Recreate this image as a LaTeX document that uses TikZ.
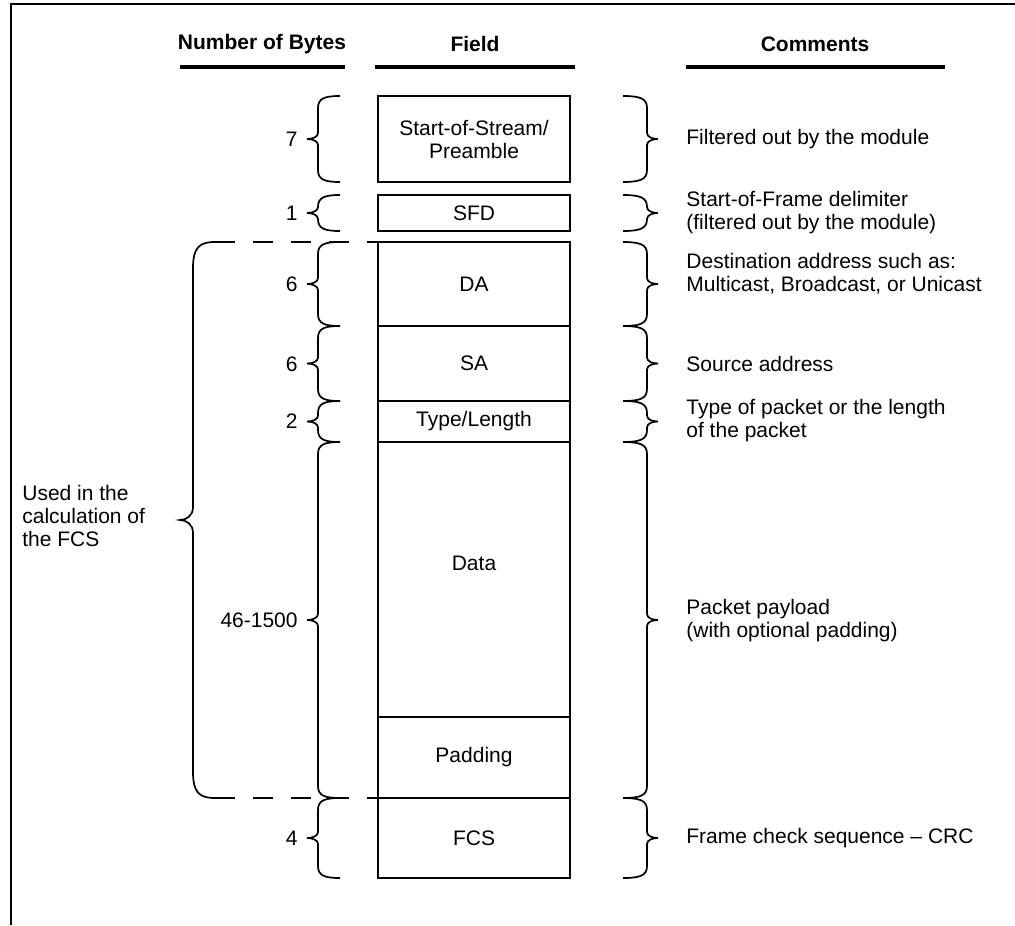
\documentclass[tikz,border=0pt]{standalone}
\usepackage{fontspec}
\setmainfont{Liberation Sans}
\usetikzlibrary{positioning}
\tikzset{
  fld/.style={draw,line width=1.3pt,minimum width=96pt,inner sep=1pt,outer sep=0pt,align=center},
  brc/.style={line width=0.85pt},
  hdr/.style={font=\fontsize{10.5}{11.5}\selectfont\bfseries},
  hrule/.style={line width=2.4pt},
  num/.style={anchor=east,inner sep=0pt},
  cmt/.style={anchor=west,align=left,inner sep=0pt},
  dline/.style={line width=1pt,dash pattern=on 10pt off 9pt},
  frame/.style={line width=1.3pt},
}
% brace: end x, spine x, tip x, top y, bottom y, corner length
\newcommand{\bracepath}[6]{%
  \draw[brc] (#1,#4) .. controls ({#2+0.3*(#1-#2)},#4) and (#2,{#4+0.2*#6}) .. (#2,{#4+#6})
    -- (#2,{(#4+#5)/2-#6/2}) .. controls (#2,{(#4+#5)/2-#6/6}) and ({#2+0.5*(#3-#2)},{(#4+#5)/2}) .. (#3,{(#4+#5)/2})
    .. controls ({#2+0.5*(#3-#2)},{(#4+#5)/2}) and (#2,{(#4+#5)/2+#6/6}) .. (#2,{(#4+#5)/2+#6/2})
    -- (#2,{#5-#6}) .. controls (#2,{#5-0.2*#6}) and ({#2+0.3*(#1-#2)},#5) .. (#1,#5);}

\begin{document}
\begin{tikzpicture}[x=0.5pt,y=-0.5pt,font=\fontsize{10.5}{11.5}\selectfont]
  \useasboundingbox (0,0) rectangle (1015,925);
  \draw[frame] (11,925) -- (11,4) -- (1015,4);

  % headings
  \node[hdr] (hbytes) at (262,44) {Number of Bytes};
  \node[hdr] (hfield) at (475,44) {Field};
  \node[hdr] (hcomm) at (815,44) {Comments};
  \draw[hrule] (180,67) -- (345,67);
  \draw[hrule] (375,67) -- (575,67);
  \draw[hrule] (686,67) -- (945,67);

  % frame fields
  \node[fld,minimum height=43pt] (pre) at (474,139) {Start-of-Stream/\\Preamble};
  \node[fld,minimum height=18pt,below=6.5pt of pre] (sfd) {SFD};
  \node[fld,minimum height=42pt,below=5.5pt of sfd] (da) {DA};
  \node[fld,minimum height=37.5pt,below=0pt of da] (sa) {SA};
  \node[fld,minimum height=20.5pt,below=0pt of sa] (tl) {Type/Length};
  \node[fld,minimum height=137.5pt,below=0pt of tl] (data) {};
  \node (datatxt) at (474,563) {Data};
  \node[fld,minimum height=40.5pt,below=0pt of data] (pad) {Padding};
  \node[fld,minimum height=40pt,below=0pt of pad] (fcs) {FCS};

  % byte counts
  \bracepath{340}{318}{307}{96}{182}{12}
  \bracepath{340}{318}{307}{195}{231}{12}
  \bracepath{340}{318}{307}{242}{326}{12}
  \bracepath{340}{318}{307}{326}{401}{12}
  \bracepath{340}{318}{307}{401}{442}{12}
  \bracepath{340}{318}{307}{442}{798}{12}
  \bracepath{340}{318}{307}{798}{878}{12}
  \node[num] (n7) at (298,139) {7};
  \node[num] (n1) at (298,213) {1};
  \node[num] (n6a) at (298,284) {6};
  \node[num] (n6b) at (298,364) {6};
  \node[num] (n2) at (298,421) {2};
  \node[num] (n46) at (298,620) {46-1500};
  \node[num] (n4) at (298,838) {4};

  % FCS coverage
  \bracepath{215}{193}{180}{242}{798}{26}
  \coordinate (fcstop) at (215,242);
  \coordinate (fcsbot) at (215,798);
  \draw[dline] (fcstop) -- (da.north west);
  \draw[dline] (fcsbot) -- (fcs.north west);
  \node[cmt] (used) at (22,516) {Used in the\\calculation of\\the FCS};

  % comments
  \bracepath{623}{647}{658}{96}{182}{12}
  \bracepath{623}{647}{658}{195}{231}{12}
  \bracepath{623}{647}{658}{242}{326}{12}
  \bracepath{623}{647}{658}{326}{401}{12}
  \bracepath{623}{647}{658}{401}{442}{12}
  \bracepath{623}{647}{658}{442}{798}{12}
  \bracepath{623}{647}{658}{798}{878}{12}
  \node[cmt] (c1) at (686,139) {Filtered out by the module};
  \node[cmt] (c2) at (686,213) {Start-of-Frame delimiter\\(filtered out by the module)};
  \node[cmt] (c3) at (686,274) {Destination address such as:\\Multicast, Broadcast, or Unicast};
  \node[cmt] (c4) at (686,364) {Source address};
  \node[cmt] (c5) at (686,421) {Type of packet or the length\\of the packet};
  \node[cmt] (c6) at (686,621) {Packet payload\\(with optional padding)};
  \node[cmt] (c7) at (686,838) {Frame check sequence -- CRC};
\end{tikzpicture}
\end{document}
